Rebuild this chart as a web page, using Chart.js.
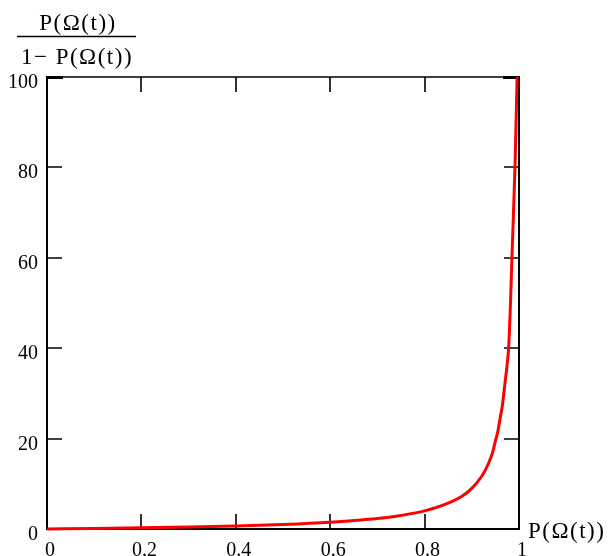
<!DOCTYPE html>
<html><head><meta charset="utf-8">
<script src="https://cdn.jsdelivr.net/npm/chart.js@4"></script>
<style>html,body{margin:0;padding:0;background:#fff}#wrap{width:611px;height:556px}</style>
</head><body><div id="wrap"><canvas id="c" width="611" height="556"></canvas></div>
<script>
// Values
const pValues     = [0, 0.1, 0.2, 0.3, 0.4, 0.5, 0.6, 0.7, 0.75, 0.8, 0.85, 0.88, 0.9, 0.92, 0.93, 0.94, 0.945, 0.95, 0.955, 0.96, 0.965, 0.97, 0.975, 0.978, 0.982, 0.985, 0.9915, 0.996];
const ratioValues = [0, 0.11, 0.25, 0.43, 0.67, 1.0, 1.5, 2.3, 3.0, 4.0, 5.7, 7.3, 9.0, 11.5, 13.3, 15.7, 17.3, 19.5, 21.5, 24.5, 27.5, 32, 36.5, 40, 50, 60, 80, 100];
const xTicks = [0, 0.2, 0.4, 0.6, 0.8, 1];
const xTickLabels = ['0', '0.2', '0.4', '0.6', '0.8', '1'];
const yTicks = [0, 20, 40, 60, 80, 100];
const yTickLabels = ['0', '20', '40', '60', '80', '100'];
const yTitleNum = 'P(Ω(t))';
const yTitleDen = '1− P(Ω(t))';
const xTitle = 'P(Ω(t))';

const SERIF = '"Liberation Serif", "DejaVu Serif", serif';

const framePlugin = {
  id: 'frame',
  beforeDatasetsDraw(chart) {
    const {ctx, chartArea: a, scales: {x, y}} = chart;
    ctx.save();
    ctx.strokeStyle = '#000';
    ctx.lineCap = 'butt';
    ctx.lineWidth = 2;
    ctx.beginPath();
    ctx.moveTo(a.left, a.top); ctx.lineTo(a.left, a.bottom);
    ctx.moveTo(a.left - 1, a.bottom); ctx.lineTo(a.right + 1, a.bottom);
    ctx.moveTo(a.right, a.top); ctx.lineTo(a.right, a.bottom);
    ctx.stroke();
    ctx.lineWidth = 1.5;
    ctx.beginPath();
    ctx.moveTo(a.left, a.top); ctx.lineTo(a.right, a.top);
    ctx.stroke();
    const L = 15;
    ctx.lineWidth = 1.6;
    ctx.beginPath();
    xTicks.forEach(v => {
      const px = Math.round(x.getPixelForValue(v));
      ctx.moveTo(px, a.bottom); ctx.lineTo(px, a.bottom - L);
      ctx.moveTo(px, a.top); ctx.lineTo(px, a.top + L);
    });
    yTicks.forEach(v => {
      const py = Math.round(y.getPixelForValue(v));
      ctx.moveTo(a.left, py); ctx.lineTo(a.left + L, py);
      ctx.moveTo(a.right, py); ctx.lineTo(a.right - L, py);
    });
    ctx.stroke();
    ctx.lineWidth = 3;
    const pt = y.getPixelForValue(100) + 0.5;
    ctx.beginPath();
    ctx.moveTo(a.left - 1, pt); ctx.lineTo(a.left + L + 1, pt);
    ctx.moveTo(a.right + 1, pt); ctx.lineTo(a.right - L - 1, pt);
    ctx.stroke();
    ctx.restore();
  },
  afterDraw(chart) {
    const {ctx, scales: {x, y}} = chart;
    ctx.save();
    ctx.fillStyle = '#000';
    ctx.font = '20px ' + SERIF;
    ctx.textBaseline = 'alphabetic';
    ctx.textAlign = 'center';
    xTicks.forEach((v, i) => {
      ctx.fillText(xTickLabels[i], x.getPixelForValue(v) + 3, 556);
    });
    ctx.textAlign = 'right';
    yTicks.forEach((v, i) => {
      ctx.fillText(yTickLabels[i], 38, y.getPixelForValue(v) + 11);
    });
    ctx.font = '23px ' + SERIF;
    try { ctx.letterSpacing = '1.5px'; } catch (e) {}
    ctx.textAlign = 'center';
    ctx.fillText(yTitleNum, 78, 30);
    ctx.fillText(yTitleDen, 77, 64);
    ctx.textAlign = 'left';
    ctx.fillText(xTitle, 528, 538);
    try { ctx.letterSpacing = '0px'; } catch (e) {}
    ctx.lineWidth = 1.5;
    ctx.beginPath();
    ctx.moveTo(17, 36.5); ctx.lineTo(136, 36.5);
    ctx.stroke();
    ctx.restore();
  }
};

new Chart(document.getElementById('c'), {
  type: 'line',
  data: {
    datasets: [{
      data: pValues.map((p, i) => ({x: p, y: ratioValues[i]})),
      borderColor: '#ff0000',
      borderWidth: 3,
      pointRadius: 0,
      fill: false,
      cubicInterpolationMode: 'monotone',
      clip: 4
    }]
  },
  options: {
    responsive: false,
    animation: false,
    devicePixelRatio: 1,
    layout: {padding: {left: 47, top: 77, right: 92, bottom: 27}},
    scales: {
      x: {type: 'linear', min: 0, max: 1, display: false},
      y: {type: 'linear', min: 0, max: 100, display: false}
    },
    plugins: {legend: {display: false}, tooltip: {enabled: false}}
  },
  plugins: [framePlugin]
});
</script>
</body></html>
